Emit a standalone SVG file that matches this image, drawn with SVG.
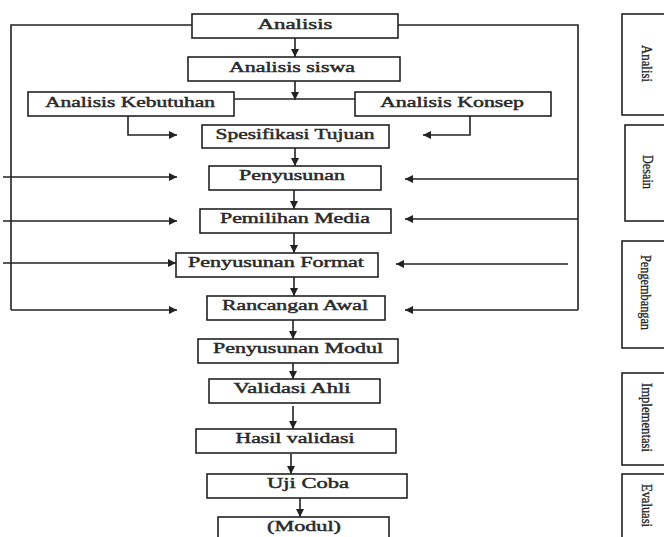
<svg xmlns="http://www.w3.org/2000/svg" width="664" height="537" viewBox="0 0 664 537">
<defs>
<marker id="ah" markerUnits="userSpaceOnUse" markerWidth="9" markerHeight="8" refX="8" refY="4" orient="auto">
<path d="M0,0 L8,4 L0,8 Z" fill="#222"/>
</marker>
<style>
.box{fill:#fff;stroke:#222;stroke-width:1.6}
.t{font-family:"Liberation Serif","Times New Roman",serif;font-size:14px;fill:#2a2a2a;stroke:#2a2a2a;stroke-width:0.45;text-anchor:middle}
.v{font-family:"Liberation Serif","Times New Roman",serif;font-size:14px;fill:#222;stroke:#222;stroke-width:0.3}
.c{fill:none;stroke:#222;stroke-width:1.6}
.a{fill:none;stroke:#222;stroke-width:1.6;marker-end:url(#ah)}
</style>
</defs>
<rect width="664" height="537" fill="#fff"/>
<g id="connectors">
<polyline class="c" points="192,25 11,25 11,310"/>
<polyline class="c" points="398,25 578,25 578,310"/>
<line class="a" x1="295" y1="38" x2="295" y2="57"/>
<line class="a" x1="295" y1="81" x2="295" y2="100"/>
<line class="c" x1="234" y1="99" x2="355" y2="99"/>
<polyline class="a" points="128,116 128,135 177,135"/>
<polyline class="a" points="470,116 470,135 423,135"/>
<line class="a" x1="295" y1="148" x2="295" y2="166"/>
<line class="a" x1="294" y1="190" x2="294" y2="209"/>
<line class="a" x1="294" y1="233" x2="294" y2="253"/>
<line class="a" x1="294" y1="277" x2="294" y2="296"/>
<line class="a" x1="293" y1="320" x2="293" y2="339"/>
<line class="a" x1="293" y1="363" x2="293" y2="379"/>
<line class="a" x1="293" y1="406" x2="293" y2="429"/>
<line class="a" x1="291" y1="454" x2="291" y2="474"/>
<line class="a" x1="300" y1="498" x2="300" y2="517"/>
<line class="a" x1="3" y1="177" x2="177" y2="177"/>
<line class="a" x1="3" y1="221" x2="177" y2="221"/>
<line class="a" x1="3" y1="263" x2="176" y2="263"/>
<line class="a" x1="11" y1="310" x2="177" y2="310"/>
<line class="a" x1="578" y1="179" x2="405" y2="179"/>
<line class="a" x1="578" y1="219" x2="405" y2="219"/>
<line class="a" x1="568" y1="264" x2="396" y2="264"/>
<line class="a" x1="578" y1="310" x2="405" y2="310"/>
</g>
<g id="analisis"><rect class="box" x="192" y="14" width="206" height="24"/><text class="t" x="295" y="29" textLength="75" lengthAdjust="spacingAndGlyphs">Analisis</text></g>
<g id="analisis-siswa"><rect class="box" x="188" y="57" width="212" height="24"/><text class="t" x="292" y="72" textLength="126" lengthAdjust="spacingAndGlyphs">Analisis siswa</text></g>
<g id="analisis-kebutuhan"><rect class="box" x="28" y="92" width="206" height="24"/><text class="t" x="130" y="107" textLength="170" lengthAdjust="spacingAndGlyphs">Analisis Kebutuhan</text></g>
<g id="analisis-konsep"><rect class="box" x="355" y="92" width="196" height="24"/><text class="t" x="452" y="107" textLength="144" lengthAdjust="spacingAndGlyphs">Analisis Konsep</text></g>
<g id="spesifikasi"><rect class="box" x="202" y="125" width="187" height="23"/><text class="t" x="295" y="139" textLength="159" lengthAdjust="spacingAndGlyphs">Spesifikasi Tujuan</text></g>
<g id="penyusunan"><rect class="box" x="209" y="166" width="172" height="24"/><text class="t" x="292" y="180" textLength="106" lengthAdjust="spacingAndGlyphs">Penyusunan</text></g>
<g id="pemilihan-media"><rect class="box" x="200" y="209" width="191" height="24"/><text class="t" x="295" y="223" textLength="150" lengthAdjust="spacingAndGlyphs">Pemilihan Media</text></g>
<g id="penyusunan-format"><rect class="box" x="176" y="253" width="202" height="24"/><text class="t" x="276" y="267" textLength="176" lengthAdjust="spacingAndGlyphs">Penyusunan Format</text></g>
<g id="rancangan-awal"><rect class="box" x="207" y="296" width="178" height="24"/><text class="t" x="295" y="310" textLength="146" lengthAdjust="spacingAndGlyphs">Rancangan Awal</text></g>
<g id="penyusunan-modul"><rect class="box" x="198" y="339" width="200" height="24"/><text class="t" x="298" y="353" textLength="170" lengthAdjust="spacingAndGlyphs">Penyusunan Modul</text></g>
<g id="validasi-ahli"><rect class="box" x="209" y="379" width="171" height="24"/><text class="t" x="292" y="393" textLength="117" lengthAdjust="spacingAndGlyphs">Validasi Ahli</text></g>
<g id="hasil-validasi"><rect class="box" x="196" y="429" width="200" height="24"/><text class="t" x="295" y="443" textLength="119" lengthAdjust="spacingAndGlyphs">Hasil validasi</text></g>
<g id="uji-coba"><rect class="box" x="207" y="474" width="200" height="24"/><text class="t" x="308" y="488" textLength="82" lengthAdjust="spacingAndGlyphs">Uji Coba</text></g>
<g id="modul"><rect class="box" x="218" y="517" width="171" height="30"/><text class="t" x="304" y="531" textLength="74" lengthAdjust="spacingAndGlyphs">(Modul)</text></g>
<g id="phase-analisi"><rect class="box" x="622" y="14" width="50" height="101"/><text class="v" transform="translate(642,45) rotate(90)" textLength="37" lengthAdjust="spacingAndGlyphs">Analisi</text></g>
<g id="phase-desain"><rect class="box" x="625" y="125" width="50" height="96"/><text class="v" transform="translate(643,155) rotate(90)" textLength="34" lengthAdjust="spacingAndGlyphs">Desain</text></g>
<g id="phase-pengembangan"><rect class="box" x="622" y="241" width="50" height="107"/><text class="v" transform="translate(641,255) rotate(90)" textLength="75" lengthAdjust="spacingAndGlyphs">Pengembangan</text></g>
<g id="phase-implementasi"><rect class="box" x="622" y="373" width="50" height="92"/><text class="v" transform="translate(642,383) rotate(90)" textLength="69" lengthAdjust="spacingAndGlyphs">Implementasi</text></g>
<g id="phase-evaluasi"><rect class="box" x="622" y="474" width="50" height="80"/><text class="v" transform="translate(642,484) rotate(90)" textLength="43" lengthAdjust="spacingAndGlyphs">Evaluasi</text></g>
</svg>
